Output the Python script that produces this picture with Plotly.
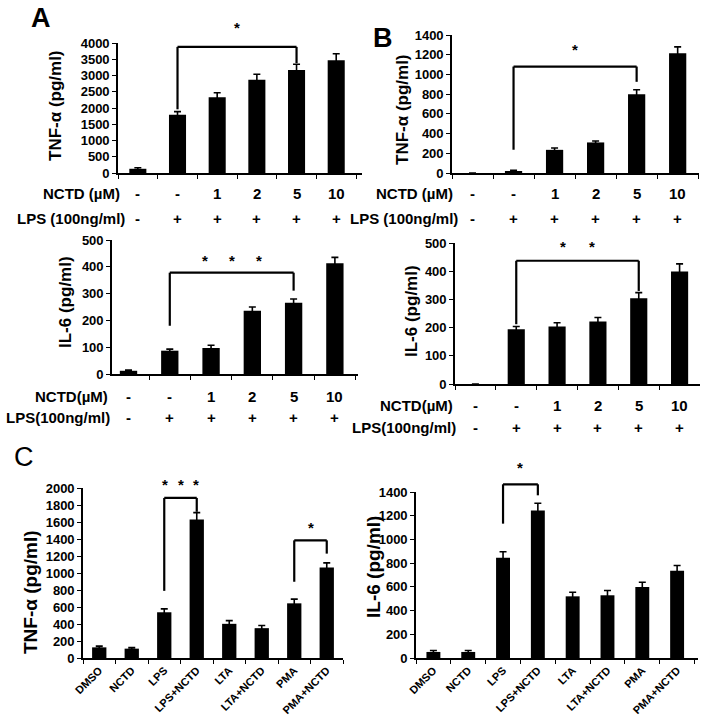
import plotly.graph_objects as go

W, H = 706, 717
FONT = "Liberation Sans, Arial, sans-serif"

# ---------------- data ----------------
dose_cats = ["ctrl", "LPS", "LPS+NCTD1", "LPS+NCTD2", "LPS+NCTD5", "LPS+NCTD10"]
nctd_row = ["-", "-", "1", "2", "5", "10"]
lps_row = ["-", "+", "+", "+", "+", "+"]

a_tnf = [130, 1790, 2330, 2870, 3170, 3470]
a_tnf_err = [30, 100, 140, 170, 175, 200]
a_il6 = [12, 87, 97, 236, 266, 413]
a_il6_err = [3, 6, 10, 14, 14, 22]
b_tnf = [0, 20, 235, 310, 800, 1215]
b_tnf_err = [None, 8, 18, 15, 45, 65]
b_il6 = [0, 194, 204, 222, 304, 399]
b_il6_err = [None, 10, 13, 14, 20, 27]

c_cats = ["DMSO", "NCTD", "LPS", "LPS+NCTD", "LTA", "LTA+NCTD", "PMA", "PMA+NCTD"]
c_tnf = [125, 110, 538, 1630, 402, 351, 643, 1064]
c_tnf_err = [15, 12, 40, 80, 38, 31, 50, 55]
c_il6 = [51, 51, 846, 1245, 520, 529, 599, 735]
c_il6_err = [12, 12, 50, 60, 35, 40, 40, 45]

# significance brackets: (left idx, right idx, top, left leg end, right leg end, star y, n stars, star spacing)
a_tnf_sig = [(1, 4, 3880, 1960, 3380, 4480, 1, 0)]
b_tnf_sig = [(1, 4, 1080, 236, 925, 1255, 1, 0)]
a_il6_sig = [(1, 4, 378, 180, 311, 423, 3, 0.65)]
b_il6_sig = [(1, 4, 437, 212, 330, 489, 2, 0.7)]
c_tnf_sig = [(2, 3, 1883, 790, 1720, 2045, 3, 0.48), (6, 7, 1384, 897, 1228, 1530, 1, 0)]
c_il6_sig = [(2, 3, 1465, 1133, 1372, 1605, 1, 0)]

# ---------------- layout helpers ----------------
def px_x(p):
    return p / W


def px_y(p):
    return 1 - p / H


panels = [
    dict(x0=118, x1=362, yt=43, yb=173, ymax=4000, dtick=500, xr=[-0.5, 5.65],
         cats=dose_cats, vals=a_tnf, err=a_tnf_err, bw=0.43, tfs=13, sig=a_tnf_sig,
         title="TNF-α (pg/ml)", tx=55, ty=106, tts=17, rot=False),
    dict(x0=452, x1=699, yt=35, yb=173, ymax=1400, dtick=200, xr=[-0.5, 5.52],
         cats=dose_cats, vals=b_tnf, err=b_tnf_err, bw=0.42, tfs=13, sig=b_tnf_sig,
         title="TNF-α (pg/ml)", tx=402, ty=109, tts=17, rot=False),
    dict(x0=112, x1=358, yt=240, yb=374, ymax=500, dtick=100, xr=[-0.4, 5.56],
         cats=dose_cats, vals=a_il6, err=a_il6_err, bw=0.42, tfs=13, sig=a_il6_sig,
         title="IL-6 (pg/ml)", tx=65, ty=302, tts=17, rot=False),
    dict(x0=455, x1=700, yt=243, yb=384, ymax=500, dtick=100, xr=[-0.5, 5.5],
         cats=dose_cats, vals=b_il6, err=b_il6_err, bw=0.42, tfs=13, sig=b_il6_sig,
         title="IL-6 (pg/ml)", tx=411, ty=311, tts=17, rot=False),
    dict(x0=83, x1=343, yt=488, yb=658, ymax=2000, dtick=200, xr=[-0.5, 7.5],
         cats=c_cats, vals=c_tnf, err=c_tnf_err, bw=0.44, tfs=13, sig=c_tnf_sig,
         title="TNF-α (pg/ml)", tx=30, ty=592, tts=19, rot=True),
    dict(x0=416, x1=698, yt=492, yb=658, ymax=1400, dtick=200, xr=[-0.5, 7.6],
         cats=c_cats, vals=c_il6, err=c_il6_err, bw=0.40, tfs=13, sig=c_il6_sig,
         title="IL-6 (pg/ml)", tx=373, ty=567, tts=19, rot=True),
]

fig = go.Figure()
shapes = []
annotations = []
layout = {}

for n, p in enumerate(panels, start=1):
    sfx = "" if n == 1 else str(n)
    xref, yref = "x" + sfx, "y" + sfx
    fig.add_trace(go.Bar(
        x=p["cats"], y=p["vals"], xaxis=xref, yaxis=yref,
        marker=dict(color="black", line=dict(width=0)), width=p["bw"],
        error_y=dict(type="data", array=p["err"], color="black", thickness=1.6, width=3.5),
        showlegend=False, hoverinfo="x+y"))
    layout["xaxis" + sfx] = dict(
        domain=[px_x(p["x0"]), px_x(p["x1"])], anchor=yref, type="category",
        categoryorder="array", categoryarray=p["cats"], range=p["xr"], automargin=False,
        tickson="boundaries", ticks="outside", ticklen=4, tickwidth=1.3, tickcolor="black",
        showline=True, linecolor="black", linewidth=1.6, showgrid=False, zeroline=False,
        showticklabels=p["rot"], tickangle=-45,
        tickfont=dict(family=FONT, size=11, color="black", weight="bold"), fixedrange=True)
    layout["yaxis" + sfx] = dict(
        domain=[px_y(p["yb"]), px_y(p["yt"])], anchor=xref, range=[0, p["ymax"]],
        automargin=False,
        dtick=p["dtick"], tick0=0, ticks="outside", ticklen=4, tickwidth=1.3, tickcolor="black",
        showline=True, linecolor="black", linewidth=1.6, showgrid=False, zeroline=False,
        tickfont=dict(family=FONT, size=p["tfs"], color="black", weight="bold"), fixedrange=True)
    # y titles
    annotations.append(dict(
        xref="paper", yref="paper", x=px_x(p["tx"]), y=px_y(p["ty"]), text=p["title"],
        textangle=-90, showarrow=False, xanchor="center", yanchor="middle",
        font=dict(family=FONT, size=p["tts"], color="black", weight="bold")))
    # significance brackets and stars
    ydom = yref + " domain"
    for (i0, i1, top, lb, rb, sy, ns, sp) in p["sig"]:
        for (xa, ya, xb, yb) in [(i0, lb, i0, top), (i0, top, i1, top), (i1, top, i1, rb)]:
            shapes.append(dict(type="line", xref=xref, yref=ydom, x0=xa, x1=xb,
                               y0=ya / p["ymax"], y1=yb / p["ymax"],
                               line=dict(color="black", width=2.2)))
        mid = (i0 + i1) / 2
        for k in range(ns):
            annotations.append(dict(
                xref=xref, yref=ydom, x=mid + (k - (ns - 1) / 2) * sp, y=sy / p["ymax"],
                text="*", showarrow=False, xanchor="center", yanchor="middle",
                font=dict(family=FONT, size=15, color="black", weight="bold")))

# treatment rows under panels A and B
rows = [
    # (panel number, label text, label right edge px, row y px, values)
    (1, "NCTD (µM)", 122, 193, nctd_row),
    (1, "LPS (100ng/ml)", 127, 218, lps_row),
    (2, "NCTD (µM)", 455, 193, nctd_row),
    (2, "LPS (100ng/ml)", 460, 218, lps_row),
    (3, "NCTD(µM)", 110, 396, nctd_row),
    (3, "LPS(100ng/ml)", 112, 417, lps_row),
    (4, "NCTD(µM)", 455, 405, nctd_row),
    (4, "LPS(100ng/ml)", 458, 427, lps_row),
]
for (n, label, rx, ry, vals) in rows:
    sfx = "" if n == 1 else str(n)
    annotations.append(dict(
        xref="paper", yref="paper", x=px_x(rx), y=px_y(ry), text=label, showarrow=False,
        xanchor="right", yanchor="middle",
        font=dict(family=FONT, size=15, color="black", weight="bold")))
    for i, v in enumerate(vals):
        annotations.append(dict(
            xref="x" + sfx, yref="paper", x=i, y=px_y(ry), text=v, showarrow=False,
            xanchor="center", yanchor="middle",
            font=dict(family=FONT, size=15, color="black", weight="bold")))

# panel letters
for (letter, lx, ly, wt) in [("A", 41, 18, "bold"), ("B", 383, 38, "bold"), ("C", 24, 457, "normal")]:
    annotations.append(dict(
        xref="paper", yref="paper", x=px_x(lx), y=px_y(ly), text=letter, showarrow=False,
        xanchor="center", yanchor="middle",
        font=dict(family=FONT, size=27, color="black", weight=wt)))

fig.update_layout(
    width=W, height=H, margin=dict(l=0, r=0, t=0, b=0, autoexpand=False),
    paper_bgcolor="white", plot_bgcolor="white",
    font=dict(family=FONT, color="black"),
    showlegend=False, shapes=shapes, annotations=annotations, **layout)

fig.write_html("out.html", config={"displayModeBar": False},
               post_script="document.body.style.margin='0';document.body.style.overflow='hidden';")
